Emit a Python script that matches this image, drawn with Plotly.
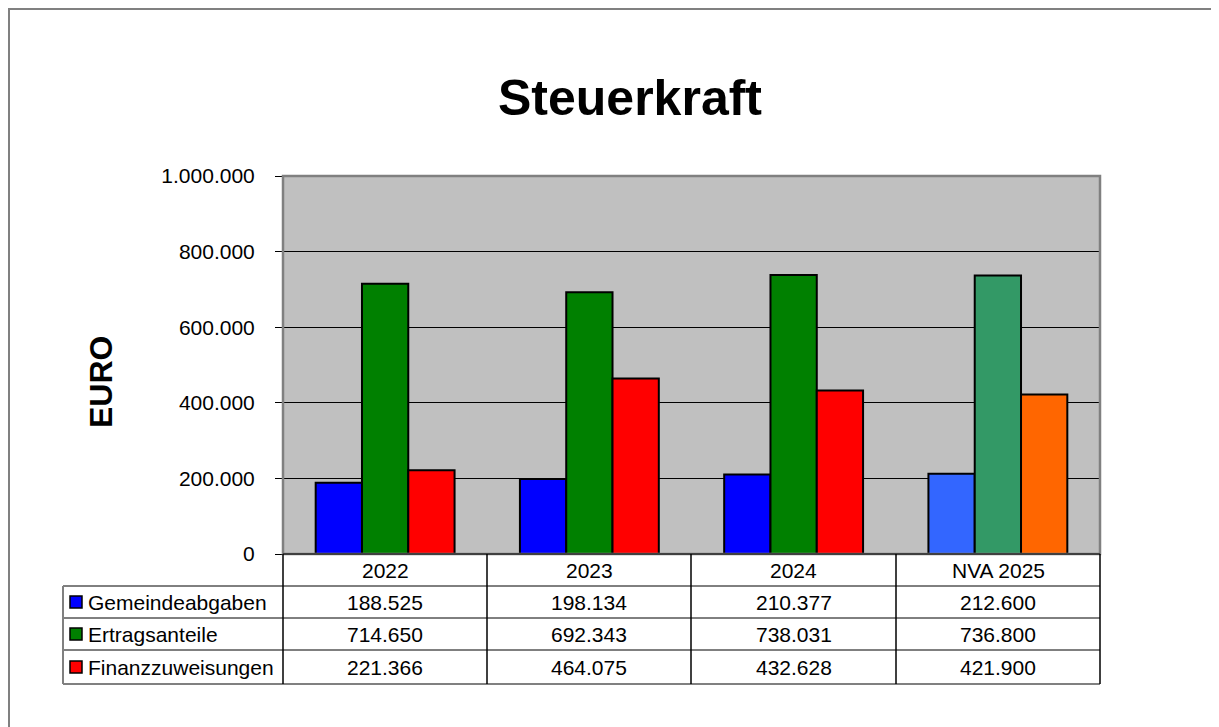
import plotly.graph_objects as go

categories = ["2022", "2023", "2024", "NVA 2025"]
series_names = ["Gemeindeabgaben", "Ertragsanteile", "Finanzzuweisungen"]
gemeindeabgaben = [188525, 198134, 210377, 212600]
ertragsanteile = [714650, 692343, 738031, 736800]
finanzzuweisungen = [221366, 464075, 432628, 421900]
base_colors = ["#0000FF", "#008000", "#FF0000"]
last_colors = ["#3366FF", "#339966", "#FF6600"]

series_values = [gemeindeabgaben, ertragsanteile, finanzzuweisungen]

OFF = 8  # page body margin
W, H = 1219 - OFF, 727 - OFF
L, R, T, B = 283, 1100, 176, 554  # page pixel coordinates of plot area
FONT = "Liberation Sans, Arial, sans-serif"

def px(x):
    return (x - L) / (R - L)

def py(y):
    return (B - y) / (B - T)

fig = go.Figure()
for name, vals, c0, c1 in zip(series_names, series_values, base_colors, last_colors):
    cols = [c0] * (len(categories) - 1) + [c1]
    fig.add_trace(go.Bar(
        x=categories, y=vals, name=name,
        marker=dict(color=cols, line=dict(color="black", width=2)),
        showlegend=False, hoverinfo="x+y+name",
    ))

shapes = []
# outer frame
shapes.append(dict(type="rect", xref="paper", yref="paper",
                   x0=px(OFF + 1), x1=px(1240), y0=py(760), y1=py(OFF + 1),
                   line=dict(color="#808080", width=2), layer="below"))
# plot area border
shapes.append(dict(type="rect", xref="paper", yref="paper",
                   x0=0, x1=1, y0=0, y1=1,
                   line=dict(color="#808080", width=2.5), layer="above"))
shapes.append(dict(type="line", xref="paper", yref="paper",
                   x0=0, x1=1, y0=0, y1=0, line=dict(color="black", width=1)))
# table
row_y = [554, 586, 618, 650, 684]
col_x = [283, 487, 691, 896, 1100]
for yy in row_y[1:]:
    last = yy == row_y[-1]
    shapes.append(dict(type="line", xref="paper", yref="paper",
                       x0=px(63), x1=px(1100), y0=py(yy), y1=py(yy),
                       line=dict(color="#808080" if last else "black",
                                 width=2 if last else 1)))
for xx in col_x:
    shapes.append(dict(type="line", xref="paper", yref="paper",
                       x0=px(xx), x1=px(xx), y0=py(554), y1=py(684),
                       line=dict(color="black", width=1.5)))
shapes.append(dict(type="line", xref="paper", yref="paper",
                   x0=px(63), x1=px(63), y0=py(586), y1=py(684),
                   line=dict(color="#808080", width=2)))

annotations = []

def ann(text, x, y, size, xanchor="center", bold=False, angle=0):
    annotations.append(dict(text=f"<b>{text}</b>" if bold else text,
                            xref="paper", yref="paper", x=px(x), y=py(y),
                            xanchor=xanchor, yanchor="middle", showarrow=False,
                            textangle=angle,
                            font=dict(family=FONT, size=size, color="black")))

ann("Steuerkraft", 630, 98, 50, bold=True)
ann("EURO", 101, 382, 32, bold=True, angle=-90)

def fmt(v):
    return f"{v:,}".replace(",", ".")

for i, cat in enumerate(categories):
    cx = (col_x[i] + col_x[i + 1]) / 2
    ann(cat, cx, 570, 21)
    for r, vals in enumerate(series_values):
        cy = (row_y[r + 1] + row_y[r + 2]) / 2
        ann(fmt(vals[i]), cx, cy, 21)

for r, (name, col) in enumerate(zip(series_names, base_colors)):
    cy = (row_y[r + 1] + row_y[r + 2]) / 2
    shapes.append(dict(type="rect", xref="paper", yref="paper",
                       x0=px(70), x1=px(82), y0=py(cy + 6), y1=py(cy - 6),
                       fillcolor=col, line=dict(color="black", width=1.5)))
    ann(name, 86, cy, 21, xanchor="left")

fig.update_layout(
    width=W, height=H,
    margin=dict(l=L - OFF, r=W + OFF - R, t=T - OFF, b=H + OFF - B, pad=0),
    paper_bgcolor="white", plot_bgcolor="#C0C0C0",
    barmode="group", bargap=0.32, bargroupgap=0,
    separators=",.",
    shapes=shapes, annotations=annotations,
    xaxis=dict(showticklabels=False, showgrid=False, zeroline=False, ticks=""),
    yaxis=dict(range=[0, 1000000], dtick=200000, tickformat=",d",
               showgrid=True, gridcolor="black", gridwidth=1, zeroline=False,
               ticks="outside", ticklen=7, tickcolor="black",
               tickfont=dict(family=FONT, size=21, color="black"),
               ticklabelstandoff=16),
    font=dict(family=FONT, color="black"),
)

fig.write_html("out.html")
